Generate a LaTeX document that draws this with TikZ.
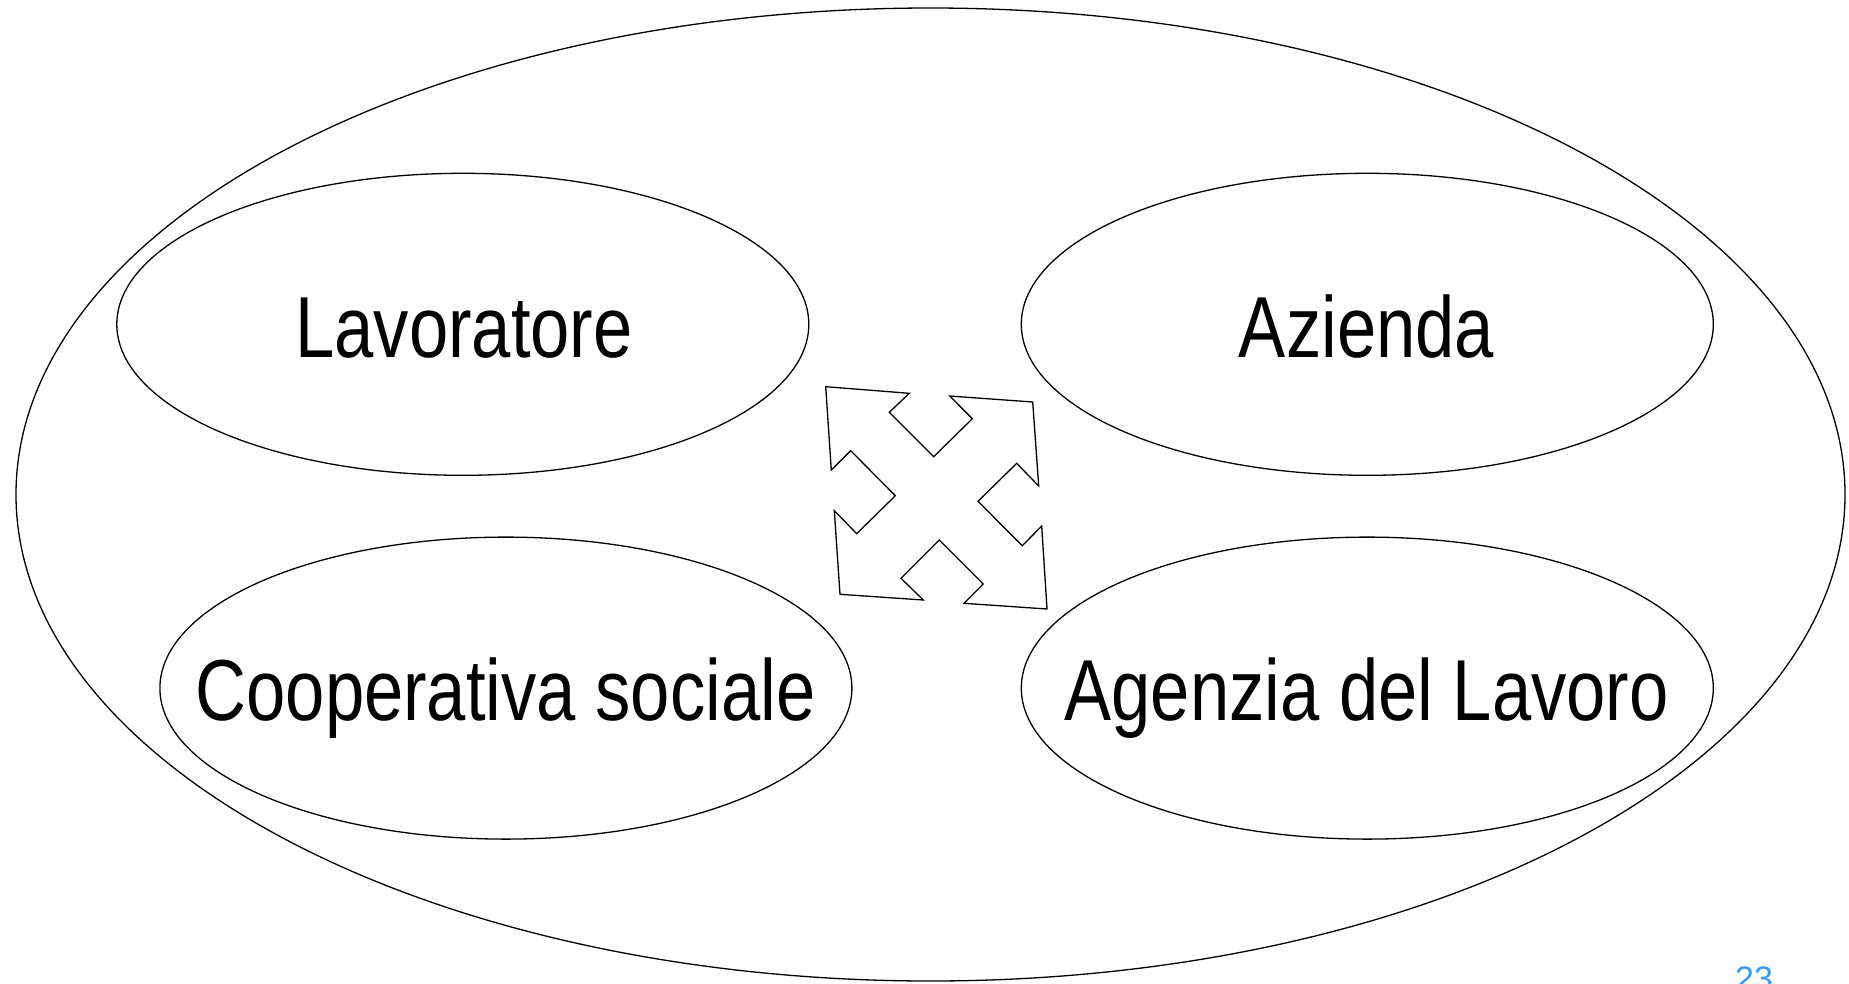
\documentclass[tikz,border=0pt]{standalone}
\usepackage{fontspec}
\setmainfont{Liberation Sans}
\newfontfamily\condfont[FakeStretch=0.815]{Liberation Sans}
\definecolor{pagenum}{RGB}{51,153,255}
\begin{document}
\begin{tikzpicture}[x=1pt,y=-1pt,
  oval/.style={draw=black,line width=1.3pt},
  lbl/.style={font=\condfont\fontsize{86.6}{100}\selectfont,anchor=base,inner sep=0pt},
  arrowshape/.style={draw=black,line width=1.3pt,line join=miter}]
\clip (0,0) rectangle (1849,983);
\fill[white] (0,0) rectangle (1849,983);
\draw[oval] (930.5,494.5) ellipse [x radius=914.5, y radius=486.5];
\coordinate (outer) at (930.5,494.5);
\draw[oval] (462.8,324.3) ellipse [x radius=346, y radius=151];
\draw[oval] (1367.3,324.3) ellipse [x radius=346, y radius=151];
\draw[oval] (505.9,688.1) ellipse [x radius=346, y radius=151];
\draw[oval] (1367.3,688.1) ellipse [x radius=346, y radius=151];
\node[lbl] (lav) at (464,357) {Lavoratore};
\node[lbl] (azi) at (1366.5,357) {Azienda};
\node[lbl] (coop) at (505.5,720) {Cooperativa sociale};
\node[lbl] (agz) at (1366.7,720) {Agenzia del Lavoro};
\draw[arrowshape] (825.7,386.7) -- (909.3,393.3) -- (889.3,412.3) -- (933.7,456.7)
  -- (972.3,418.7) -- (949.7,396) -- (1032.7,402) -- (1038.7,486) -- (1016.7,463.3)
  -- (978,501.3) -- (1022.3,545.7) -- (1041.7,526) -- (1047,609) -- (964,603.3)
  -- (983.3,584) -- (939.3,540) -- (901,578.3) -- (923.3,600) -- (840,594.3)
  -- (834.3,510.7) -- (856.7,533.7) -- (895.3,495.7) -- (850.7,450.7) -- (831.3,470) -- cycle;
\node[font=\fontsize{34}{40}\selectfont,text=pagenum,anchor=base west,inner sep=0pt] (num) at (1735,990) {23};
\end{tikzpicture}
\end{document}
